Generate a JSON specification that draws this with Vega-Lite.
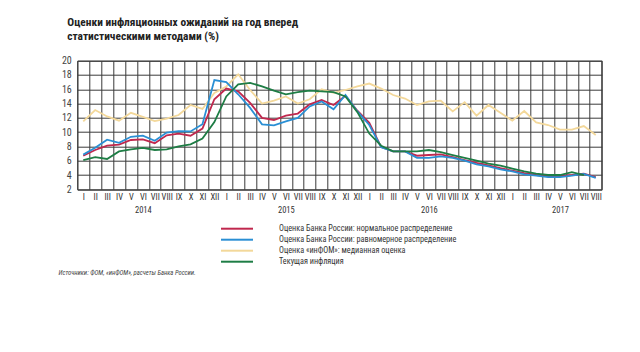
{
  "$schema": "https://vega.github.io/schema/vega-lite/v6.json",
  "width": 524.4,
  "height": 128.6,
  "autosize": {"type": "none"},
  "padding": {"left": 77.3, "top": 60.7, "right": 38.3, "bottom": 162.7},
  "background": "white",
  "config": {
    "view": {"stroke": "#333333", "strokeWidth": 1},
    "font": "'Liberation Sans Narrow', 'Roboto Condensed', Roboto, sans-serif"
  },
  "title": {
    "text": ["Оценки инфляционных ожиданий на год вперед", "статистическими методами (%)"],
    "anchor": "start",
    "frame": "group",
    "dx": -10,
    "fontSize": 11.4,
    "fontWeight": "bold",
    "color": "#222222",
    "lineHeight": 14.5,
    "offset": 13
  },
  "data": {
    "values": [
      {"i": 0, "r": 6.7, "b": 6.85, "y": 11.5, "g": 6.1},
      {"i": 1, "r": 7.5, "b": 7.8, "y": 13.1, "g": 6.5},
      {"i": 2, "r": 8.1, "b": 8.95, "y": 12.2, "g": 6.25},
      {"i": 3, "r": 8.25, "b": 8.5, "y": 11.6, "g": 7.3},
      {"i": 4, "r": 8.9, "b": 9.35, "y": 12.7, "g": 7.6},
      {"i": 5, "r": 9.0, "b": 9.5, "y": 12.15, "g": 7.8},
      {"i": 6, "r": 8.45, "b": 8.8, "y": 11.55, "g": 7.5},
      {"i": 7, "r": 9.55, "b": 9.95, "y": 11.9, "g": 7.6},
      {"i": 8, "r": 9.8, "b": 10.15, "y": 12.4, "g": 8.0},
      {"i": 9, "r": 9.5, "b": 10.1, "y": 13.8, "g": 8.3},
      {"i": 10, "r": 10.5, "b": 11.1, "y": 13.25, "g": 9.1},
      {"i": 11, "r": 14.6, "b": 17.3, "y": 15.5, "g": 11.4},
      {"i": 12, "r": 16.1, "b": 17.0, "y": 16.4, "g": 15.0},
      {"i": 13, "r": 15.7, "b": 15.3, "y": 18.1, "g": 16.7},
      {"i": 14, "r": 14.1, "b": 13.4, "y": 15.9, "g": 16.9},
      {"i": 15, "r": 12.0, "b": 11.1, "y": 14.0, "g": 16.4},
      {"i": 16, "r": 11.7, "b": 10.95, "y": 14.4, "g": 15.8},
      {"i": 17, "r": 12.3, "b": 11.5, "y": 15.0, "g": 15.3},
      {"i": 18, "r": 12.6, "b": 12.0, "y": 14.0, "g": 15.6},
      {"i": 19, "r": 13.9, "b": 13.6, "y": 14.6, "g": 15.8},
      {"i": 20, "r": 14.5, "b": 14.3, "y": 16.0, "g": 15.7},
      {"i": 21, "r": 13.8, "b": 13.2, "y": 15.5, "g": 15.6},
      {"i": 22, "r": 15.1, "b": 15.2, "y": 15.9, "g": 15.0},
      {"i": 23, "r": 13.0, "b": 12.9, "y": 16.4, "g": 12.8},
      {"i": 24, "r": 11.3, "b": 11.0, "y": 16.8, "g": 9.8},
      {"i": 25, "r": 7.9, "b": 7.9, "y": 16.1, "g": 8.1},
      {"i": 26, "r": 7.3, "b": 7.3, "y": 15.2, "g": 7.3},
      {"i": 27, "r": 7.3, "b": 7.3, "y": 14.7, "g": 7.3},
      {"i": 28, "r": 6.7, "b": 6.4, "y": 13.8, "g": 7.3},
      {"i": 29, "r": 6.8, "b": 6.4, "y": 14.3, "g": 7.5},
      {"i": 30, "r": 6.9, "b": 6.6, "y": 14.4, "g": 7.2},
      {"i": 31, "r": 6.5, "b": 6.4, "y": 12.9, "g": 6.8},
      {"i": 32, "r": 6.1, "b": 6.0, "y": 14.2, "g": 6.4},
      {"i": 33, "r": 5.7, "b": 5.5, "y": 12.3, "g": 6.0},
      {"i": 34, "r": 5.35, "b": 5.2, "y": 13.8, "g": 5.6},
      {"i": 35, "r": 4.95, "b": 4.8, "y": 12.7, "g": 5.3},
      {"i": 36, "r": 4.6, "b": 4.5, "y": 11.6, "g": 4.9},
      {"i": 37, "r": 4.25, "b": 4.1, "y": 12.95, "g": 4.5},
      {"i": 38, "r": 4.0, "b": 3.9, "y": 11.35, "g": 4.2},
      {"i": 39, "r": 3.85, "b": 3.7, "y": 11.0, "g": 4.0},
      {"i": 40, "r": 3.85, "b": 3.7, "y": 10.35, "g": 4.0},
      {"i": 41, "r": 4.0, "b": 3.9, "y": 10.35, "g": 4.4},
      {"i": 42, "r": 4.2, "b": 4.15, "y": 10.85, "g": 4.0},
      {"i": 43, "r": 3.7, "b": 3.6, "y": 9.6, "g": null}
    ]
  },
  "transform": [
    {"fold": ["y", "r", "b", "g"], "as": ["s", "v"]},
    {"filter": "datum.v != null"}
  ],
  "mark": {"type": "line", "strokeWidth": 1.8, "clip": true},
  "encoding": {
    "x": {
      "field": "i",
      "type": "quantitative",
      "scale": {"domain": [-0.5, 43.5], "nice": false, "zero": false},
      "axis": {
        "values": [-0.5, 0, 0.5, 1, 1.5, 2, 2.5, 3, 3.5, 4, 4.5, 5, 5.5, 6, 6.5, 7, 7.5, 8, 8.5, 9, 9.5, 10, 10.5, 11, 11.5, 12, 12.5, 13, 13.5, 14, 14.5, 15, 15.5, 16, 16.5, 17, 17.5, 18, 18.5, 19, 19.5, 20, 20.5, 21, 21.5, 22, 22.5, 23, 23.5, 24, 24.5, 25, 25.5, 26, 26.5, 27, 27.5, 28, 28.5, 29, 29.5, 30, 30.5, 31, 31.5, 32, 32.5, 33, 33.5, 34, 34.5, 35, 35.5, 36, 36.5, 37, 37.5, 38, 38.5, 39, 39.5, 40, 40.5, 41, 41.5, 42, 42.5, 43, 43.5],
        "labelExpr": "datum.value % 1 != 0 ? '' : (datum.value == 5 ? ['VI', '2014'] : datum.value == 17 ? ['VI', '2015'] : datum.value == 29 ? ['VI', '2016'] : datum.value == 40 ? ['V', '2017'] : ['I','II','III','IV','V','VI','VII','VIII','IX','X','XI','XII'][datum.value % 12])",
        "grid": true,
        "gridColor": "#3a3a3a",
        "gridWidth": 1,
        "gridOpacity": {"condition": {"test": "datum.value % 1 != 0", "value": 1}, "value": 0},
        "ticks": false,
        "domain": false,
        "labelOverlap": false,
        "labelFlush": false,
        "labelPadding": 3,
        "labelFontSize": 8.5,
        "labelColor": "#333333",
        "labelLineHeight": 13,
        "labelBaseline": "top",
        "title": "Источники: ФОМ, «инФОМ», расчеты Банка России.",
        "titleFontSize": 6.6,
        "titleFontStyle": "italic",
        "titleFontWeight": "normal",
        "titleColor": "#444444",
        "titleAlign": "left",
        "titleAnchor": "start",
        "titleBaseline": "middle",
        "titleX": -19.3,
        "titleY": 82.7
      }
    },
    "y": {
      "field": "v",
      "type": "quantitative",
      "scale": {"domain": [2, 20], "nice": false, "zero": false},
      "axis": {
        "values": [2, 4, 6, 8, 10, 12, 14, 16, 18, 20],
        "grid": true,
        "gridColor": "#3a3a3a",
        "gridWidth": 1,
        "ticks": false,
        "domain": false,
        "labelPadding": 6,
        "labelFontSize": 10,
        "labelColor": "#444444",
        "title": null
      }
    },
    "color": {
      "field": "s",
      "type": "nominal",
      "scale": {"domain": ["r", "b", "y", "g"], "range": ["#c0284e", "#2a8fd4", "#f3d89a", "#1e7d45"]},
      "legend": {
        "orient": "none",
        "legendX": 154.7,
        "legendY": 163,
        "title": null,
        "symbolType": "M-4,0H4",
        "symbolSize": 64,
        "symbolStrokeWidth": 2,
        "labelOffset": 37,
        "labelFontSize": 8.2,
        "labelLimit": 400,
        "labelColor": "#333333",
        "rowPadding": 2,
        "padding": 0,
        "labelExpr": "datum.value == 'r' ? 'Оценка Банка России: нормальное распределение' : datum.value == 'b' ? 'Оценка Банка России: равномерное распределение' : datum.value == 'y' ? 'Оценка «инФОМ»: медианная оценка' : 'Текущая инфляция'"
      }
    },
    "order": {"field": "s"}
  }
}
